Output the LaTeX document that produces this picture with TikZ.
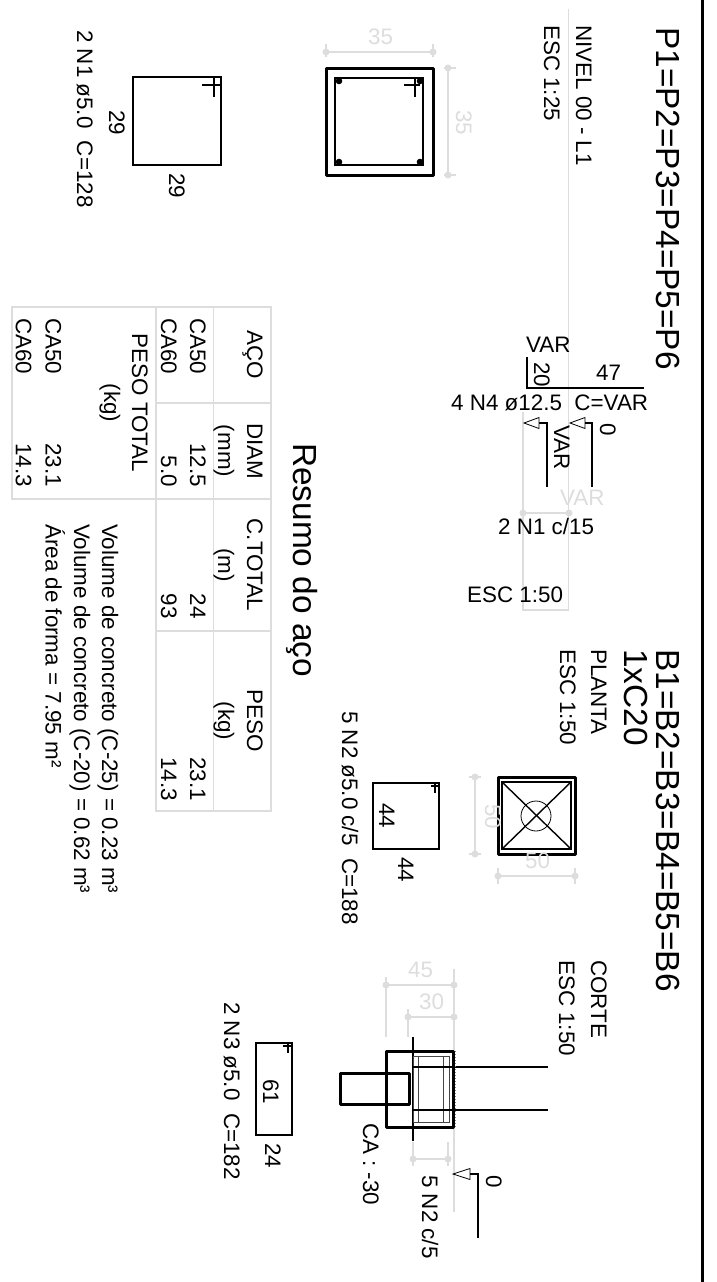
\documentclass[tikz,border=0pt]{standalone}
\usepackage{fontspec}
\setmainfont{Liberation Sans}
\usepackage{tikz}
\usepackage{color}
\definecolor{dimgray}{RGB}{221, 221, 221}
\definecolor{rebargray}{RGB}{70, 70, 70}
\tikzset{
  vtext/.style={rotate=-90, anchor=base west, inner sep=0pt, font=\fontsize{22.4}{24}\selectfont},
  vright/.style={vtext, anchor=base east},
  vmid/.style={vtext, anchor=base},
  vtitle/.style={vtext, font=\fontsize{33.4}{36}\selectfont},
  htext/.style={anchor=base west, inner sep=0pt, font=\fontsize{22.4}{24}\selectfont},
  concrete/.style={line width=3pt, line join=round},
  rebar/.style={line width=1.4pt},
  thinbar/.style={line width=1pt, color=rebargray},
  dimline/.style={line width=1.3pt, color=dimgray},
  griddraw/.style={line width=1.5pt, color=dimgray}
}
\begin{document}
\begin{tikzpicture}[x=1pt, y=-1pt]
  \useasboundingbox (0,0) rectangle (716,1282);
  \draw[line width=3pt] (702.5,0) -- (702.5,1282);

  \draw[dimline] (568.7,9) -- (568.7,610) -- (523,610) -- (523,412);
  \draw[griddraw] (12,307) rectangle (156,499);
  \draw[griddraw] (156,307) rectangle (271,811);
  \draw[griddraw] (213.5,307) -- (213.5,811);
  \draw[griddraw] (156,403) -- (271,403);
  \draw[griddraw] (156,499) -- (271,499);
  \draw[griddraw] (156,631) -- (271,631);

  \node[vtitle] (pilares) at (656,27) {P1=P2=P3=P4=P5=P6};
  \node[vtext] (nivel) at (576,25) {NIVEL 00 - L1};
  \node[vtext] (escP) at (544,25) {ESC 1:25};

  \draw[concrete] (326,68) rectangle (433,175);
  \draw[rebar] (335,78) rectangle (423,165);
  \foreach \px/\py in {339/81, 420/81, 339/162, 420/162}
    \fill (\px,\py) circle (3.3pt);
  \draw[rebar] (404,85) -- (420,85);
  \draw[rebar] (415,78) -- (415,97);

  \draw[dimline] (326,52) -- (433,52);
  \draw[dimline] (326,44) -- (326,57);
  \draw[dimline] (433,44) -- (433,57);
  \fill[dimgray] (326,52) circle (3.5pt);
  \fill[dimgray] (433,52) circle (3.5pt);
  \node[htext, text=dimgray] (cotaPa) at (368,44) {35};
  \draw[dimline] (448,68) -- (448,175);
  \draw[dimline] (444,68) -- (456,68);
  \draw[dimline] (444,175) -- (456,175);
  \fill[dimgray] (448,68) circle (3.5pt);
  \fill[dimgray] (448,175) circle (3.5pt);
  \node[vtext, text=dimgray] (cotaPb) at (456,110) {35};

  \draw[rebar] (133,77) rectangle (221,165);
  \draw[rebar] (202,85) -- (221,85);
  \draw[rebar] (214,77) -- (214,97);
  \node[vtext] (ladoNa) at (109,110) {29};
  \node[vtext] (ladoNb) at (169,173) {29};
  \node[vtext] (estriboNa) at (77,30) {2 N1 ø5.0~~C=128};

  \node[htext] (varTop) at (526,352) {VAR};
  \node[htext] (compr) at (596,380) {47};
  \node[vtext] (dobra) at (534,362) {20};
  \draw[rebar] (527,357) -- (527,388) -- (644,388);
  \node[htext] (ferroN) at (451,410.7) {4 N4 ø12.5~~C=VAR};

  \draw[rebar] (547,487) -- (547,423) -- (539,423);
  \draw[line width=0.8pt] (524,423) -- (539,417.5) -- (539,428.5) -- cycle;
  \draw[rebar] (592,487) -- (592,423) -- (585,423);
  \draw[line width=0.8pt] (570,423) -- (585,417.5) -- (585,428.5) -- cycle;
  \node[vtext] (nivelA) at (600,423) {0};
  \node[vtext] (nivelB) at (554,425) {VAR};

  \draw[dimline] (523,513) -- (569,513);
  \fill[dimgray] (523,513) circle (3.5pt);
  \fill[dimgray] (569,513) circle (3.5pt);
  \node[htext, text=dimgray] (varCota) at (560,505) {VAR};
  \node[htext] (estribos) at (498,534) {2 N1 c/15};
  \node[htext] (escV) at (467,602) {ESC 1:50};

  \node[vtitle] (resumo) at (293,443) {Resumo do aço};
  \node[vmid] (headA) at (247,355) {AÇO};
  \node[vmid] (headB) at (247,451) {DIAM};
  \node[vmid] (headBu) at (218,451) {(mm)};
  \node[vmid] (headC) at (247,565) {C.TOTAL};
  \node[vmid] (headCu) at (218,565) {(m)};
  \node[vmid] (headD) at (247,721) {PESO};
  \node[vmid] (headDu) at (218,721) {(kg)};
  \node[vtext] (acoA) at (190,318) {CA50};
  \node[vtext] (acoB) at (161,318) {CA60};
  \node[vright] (diamA) at (190,487) {12.5};
  \node[vright] (diamB) at (161,487) {5.0};
  \node[vright] (comprA) at (190,619) {24};
  \node[vright] (comprB) at (161,619) {93};
  \node[vright] (pesoA) at (190,801) {23.1};
  \node[vright] (pesoB) at (161,801) {14.3};
  \node[vmid] (totalHead) at (132,403) {PESO TOTAL};
  \node[vmid] (totalUnit) at (104,403) {(kg)};
  \node[vtext] (totalA) at (45.7,318) {CA50};
  \node[vtext] (totalB) at (16,318) {CA60};
  \node[vright] (totalAp) at (45.7,487) {23.1};
  \node[vright] (totalBp) at (16,487) {14.3};

  \node[vtext] (volA) at (102,524) {Volume de concreto (C-25) = 0.23 m³};
  \node[vtext] (volB) at (74,524) {Volume de concreto (C-20) = 0.62 m³};
  \node[vtext] (areaF) at (45.7,524) {Área de forma = 7.95 m²};

  \node[vtitle] (blocos) at (656,649) {B1=B2=B3=B4=B5=B6};
  \node[vtitle] (qtd) at (624,649) {1xC20};
  \node[vtext] (planta) at (591,649) {PLANTA};
  \node[vtext] (escB) at (560,649) {ESC 1:50};

  \draw[concrete] (498,777) rectangle (575,854);
  \draw[rebar] (502,782) rectangle (571,849);
  \draw[rebar] (502,782) -- (571,849);
  \draw[rebar] (502,849) -- (571,782);
  \draw[line width=0.8pt] (536,816) circle (15pt);

  \draw[dimline] (475,777) -- (475,854);
  \draw[dimline] (469,777) -- (481,777);
  \draw[dimline] (469,854) -- (481,854);
  \fill[dimgray] (475,777) circle (3.5pt);
  \fill[dimgray] (475,854) circle (3.5pt);
  \node[vtext, text=dimgray] (cotaBa) at (485,804) {50};
  \draw[dimline] (498,876) -- (575,876);
  \draw[dimline] (498,868) -- (498,884);
  \draw[dimline] (575,868) -- (575,884);
  \fill[dimgray] (498,876) circle (3.5pt);
  \fill[dimgray] (575,876) circle (3.5pt);
  \node[htext, text=dimgray] (cotaBb) at (525,868) {50};

  \draw[rebar] (373,783) rectangle (439,849);
  \draw[rebar] (431,786) -- (439,786);
  \draw[rebar] (435,783) -- (435,793);
  \node[vtext] (ladoBa) at (379,803) {44};
  \node[vtext] (ladoBb) at (398,857) {44};
  \node[vtext] (estriboNb) at (342,711) {5 N2 ø5.0 c/5~~C=188};

  \node[vtext] (corte) at (591,960) {CORTE};
  \node[vtext] (escC) at (559,960) {ESC 1:50};

  \draw[dimline] (386,985) -- (454,985);
  \draw[dimline] (386,977) -- (386,1037);
  \draw[dimline] (454,969) -- (454,1212);
  \fill[dimgray] (386,985) circle (3.5pt);
  \fill[dimgray] (454,985) circle (3.5pt);
  \node[htext, text=dimgray] (cotaCa) at (408,977) {45};
  \draw[dimline] (408,1017) -- (454,1017);
  \draw[dimline] (408,1009) -- (408,1037);
  \fill[dimgray] (408,1017) circle (3.5pt);
  \fill[dimgray] (454,1017) circle (3.5pt);
  \node[htext, text=dimgray] (cotaCb) at (419,1009) {30};
  \draw[dimline] (413,1142) -- (413,1166);
  \draw[dimline] (448,1142) -- (448,1166);
  \draw[dimline] (413,1159) -- (448,1159);
  \fill[dimgray] (413,1159) circle (3.5pt);
  \fill[dimgray] (448,1159) circle (3.5pt);

  \draw[concrete] (386,1051) rectangle (453,1127);
  \draw[concrete] (340,1073) rectangle (409,1104);
  \draw[rebar] (413,1037) -- (413,1141);
  \draw[thinbar] (413,1056) rectangle (449,1122);
  \draw[thinbar] (418,1056) -- (418,1122);
  \draw[thinbar] (443,1056) -- (443,1122);
  \draw[rebar] (413,1067) -- (548,1067);
  \draw[rebar] (413,1110) -- (548,1110);
  \draw[thinbar, dotted, color=gray] (455,1051) -- (455,1127);

  \draw[rebar] (478,1238) -- (478,1174) -- (470,1174);
  \draw[line width=0.8pt] (453,1174) -- (470,1168.5) -- (470,1179.5) -- cycle;
  \node[vtext] (nivelC) at (486,1175) {0};
  \node[vtext] (estribosC) at (422,1175) {5 N2 c/5};
  \node[vtext] (cotaCA) at (363,1123) {CA : -30};

  \draw[rebar] (256,1043) rectangle (292,1135);
  \draw[rebar] (283,1046) -- (292,1046);
  \draw[rebar] (288,1043) -- (288,1053);
  \node[vtext] (ladoCa) at (263,1079) {61};
  \node[vtext] (ladoCb) at (265,1143) {24};
  \node[vtext] (estriboNc) at (224,1002) {2 N3 ø5.0~~C=182};
\end{tikzpicture}
\end{document}
